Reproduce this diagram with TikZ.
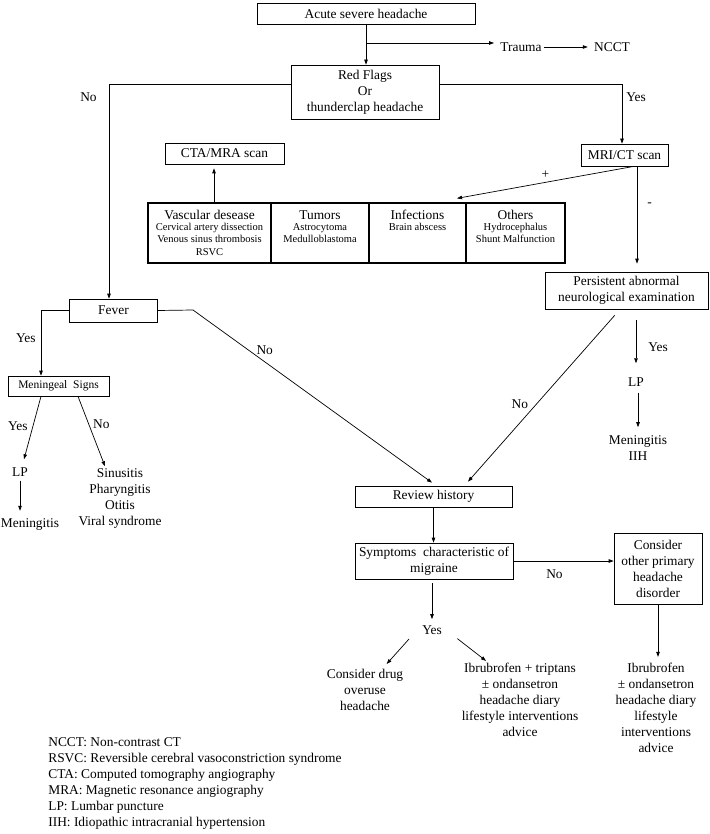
\documentclass[tikz,border=0pt]{standalone}
\usepackage{fontspec}
\setmainfont{Liberation Serif}
\usetikzlibrary{arrows.meta}

\begin{document}
\begin{tikzpicture}
      [x = 1pt, y = -1pt, line width = .7pt,
       font = \fontsize{13.4}{16}\selectfont,
       box/.style = {draw, align = center, inner sep = 0pt},
       cell/.style = {draw, line width = 1.3pt, minimum height = 60pt, inner sep = 0pt},
       txt/.style = {align = center, inner sep = 2pt},
       lbl/.style = {inner sep = 0pt},
       arr/.style = {-{Triangle[length = 5pt, width = 3.5pt]}}]
      \useasboundingbox (0,0) rectangle (709,834);
      % boxes
      \node[box, minimum width = 218pt, minimum height = 21pt] (acute) at (366, 13.5) {Acute severe headache};
      \node[box, minimum width = 148pt, minimum height = 54pt] (flags) at (365, 92) {Red Flags\\Or\\thunderclap headache};
      \node[txt] (trauma) at (521, 47) {Trauma};
      \node[txt] (ncct) at (612, 47) {NCCT};
      \node[box, minimum width = 119pt, minimum height = 21pt] (cta) at (224.5, 153.5) {CTA/MRA scan};
      \node[box, minimum width = 87pt, minimum height = 22pt] (mri) at (624.5, 155) {MRI/CT scan};
      \foreach \name/\xa/\xb/\head/\items in
        {vasc/148/271/Vascular desease/{Cervical artery dissection\\Venous sinus thrombosis\\RSVC},
         tum/271/369/Tumors/{Astrocytoma\\Medulloblastoma},
         inf/369/466/Infections/{Brain abscess},
         oth/466/565/Others/{Hydrocephalus\\Shunt Malfunction}}
      {
        \node[cell, minimum width = \xb pt - \xa pt] (\name) at ({(\xa+\xb)/2}, 233) {};
        \node[txt, inner sep = 0pt] (\name h) at ({(\xa+\xb)/2}, 215) {\head};
        \node[txt, inner sep = 0pt, anchor = north, font = \fontsize{10.5}{12.2}\selectfont]
          (\name i) at ({(\xa+\xb)/2}, 223) {\items};
      }
      \node[box, minimum width = 163pt, minimum height = 37pt] (persist) at (626.5, 290.5) {Persistent abnormal\\neurological examination};
      \node[box, minimum width = 88pt, minimum height = 23pt] (fever) at (113.5, 310.5) {Fever};
      \node[box, minimum width = 101pt, minimum height = 20pt, font = \fontsize{11.5}{13}\selectfont] (mening) at (58.5, 386) {Meningeal\ \ Signs};
      \node[txt] (lpa) at (20, 472) {LP};
      \node[txt] (meninga) at (30, 525) {Meningitis};
      \node[txt] (sinus) at (120, 498.5) {Sinusitis\\Pharyngitis\\Otitis\\Viral syndrome};
      \node[txt] (lpb) at (636, 382) {LP};
      \node[txt] (meningb) at (638, 448) {Meningitis\\IIH};
      \node[box, minimum width = 157pt, minimum height = 21pt] (review) at (433.5, 496.5) {Review history};
      \node[box, minimum width = 158pt, minimum height = 36pt] (symp) at (434, 561) {Symptoms\ \ characteristic of\\migraine};
      \node[box, minimum width = 88pt, minimum height = 71pt] (consider) at (658, 568.5) {Consider\\other primary\\headache\\disorder};
      \node[txt] (yes) at (432, 630) {Yes};
      \node[txt] (drug) at (365, 690) {Consider drug\\overuse\\headache};
      \node[txt] (ibua) at (520, 700) {Ibrubrofen + triptans\\± ondansetron\\headache diary\\lifestyle interventions\\advice};
      \node[txt] (ibub) at (656, 708) {Ibrubrofen\\± ondansetron\\headache diary\\lifestyle\\interventions\\advice};
      \node[align = left, inner sep = 0pt, anchor = west] (legend) at (48, 783.5)
        {NCCT: Non-contrast CT\\RSVC: Reversible cerebral vasoconstriction syndrome\\CTA: Computed tomography angiography\\MRA: Magnetic resonance angiography\\LP: Lumbar puncture\\IIH: Idiopathic intracranial hypertension};
      % connectors
      \coordinate (split) at (366, 43);
      \coordinate (bend) at (193, 310);
      \draw[arr] (acute.south) -- (acute.south |- flags.north);
      \draw[arr, shorten >= 4pt] (split) -- (split -| trauma.west);
      \draw[arr, shorten >= 4pt] (trauma) -- (ncct);
      \draw[arr] ([yshift = 8pt]flags.west) -| node[lbl, pos = .53, left = 12pt] {No} ([xshift = -4.5pt]fever.north);
      \draw[arr] ([yshift = 8pt]flags.east) -| node[lbl, pos = .61, right = 4pt] {Yes} ([xshift = -2.5pt]mri.north);
      \draw[arr, shorten >= 4pt] ([xshift = 4.5pt]vasc.north) -- ([xshift = 4.5pt]vasc.north |- cta.south);
      \draw[arr] ([xshift = 9.5pt]mri.south) -- node[lbl, above = 3pt] {+} ([xshift = 39.5pt, yshift = 4pt]inf.north);
      \draw[arr, shorten >= 8pt] ([xshift = 12.5pt]mri.south) -- node[lbl, pos = .36, right = 10pt] {-} ([xshift = 12.5pt]mri.south |- persist.north);
      \draw[arr] (fever.west) -| node[lbl, pos = .71, left = 5pt] {Yes} ([xshift = -17.5pt]mening.north);
      \draw[arr] (fever.east) -- (bend) -- node[lbl, pos = .3, above = 7pt] {No} ([xshift = -1.5pt, yshift = 3pt]review.north);
      \draw[arr, shorten <= 8pt] ([xshift = -6.5pt]persist.south) -- node[lbl, pos = .55, left = 8pt] {No} ([xshift = 34.5pt, yshift = 4pt]review.north);
      \draw[arr, shorten <= 11pt, shorten >= 12pt] (persist.south -| lpb) -- node[lbl, pos = .58, right = 12pt] {Yes} (lpb);
      \draw[arr, shorten <= 4pt, shorten >= 6pt] (lpb.south -| meningb) -- (meningb);
      \draw[arr] ([xshift = -17.5pt]mening.south) -- node[lbl, pos = .47, left = 5pt] {Yes} ([xshift = 4pt, yshift = 6pt]lpa.north);
      \draw[arr] ([xshift = 19.5pt]mening.south) -- node[lbl, pos = .4, right = 4pt] {No} ([xshift = -15pt]sinus.north);
      \draw[arr, shorten <= 2pt, shorten >= 6pt] (lpa) -- (lpa |- meninga.north);
      \draw[arr] (review.south) -- (review.south |- symp.north);
      \draw[arr] (symp.east) -- node[lbl, pos = .41, below = 8pt] {No} (symp.east -| consider.west);
      \draw[arr, shorten >= 4pt] (consider.south) -- (consider.south |- ibub.north);
      \draw[arr, shorten <= 4pt, shorten >= 4pt] (symp.south -| yes) -- (yes);
      \draw[arr, shorten <= 3pt, shorten >= 4pt] ([xshift = -21pt]yes.south) -- ([xshift = 19pt]drug.north);
      \draw[arr, shorten <= 3pt] ([xshift = 23pt]yes.south) -- ([xshift = -34pt]ibua.north);
    \end{tikzpicture}
\end{document}
